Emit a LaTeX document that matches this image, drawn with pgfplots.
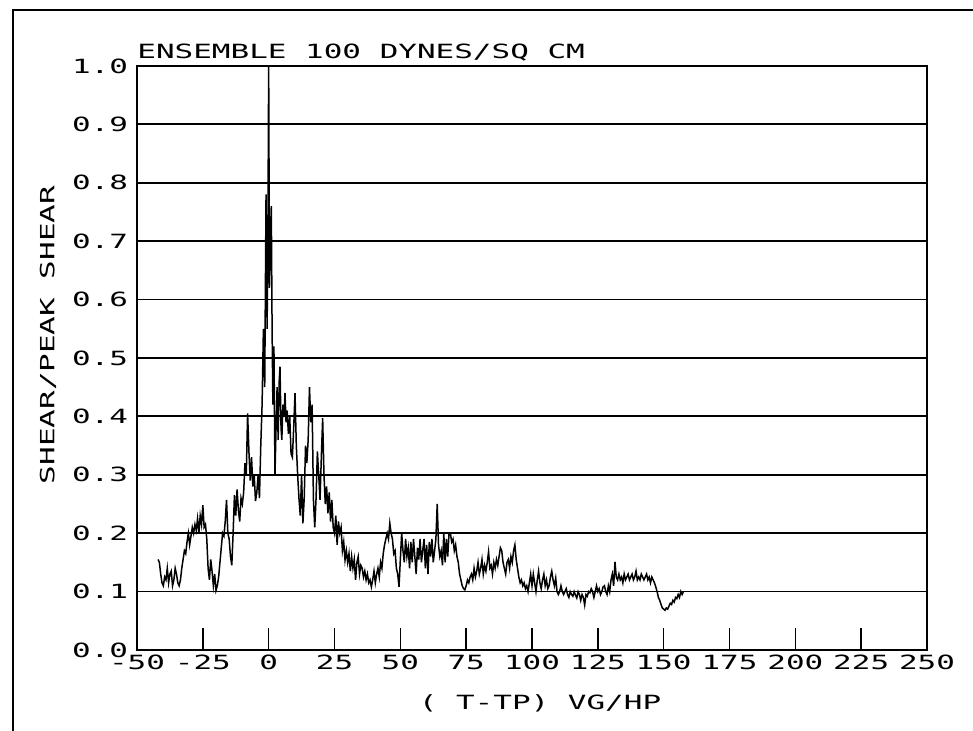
\documentclass[border=0pt]{standalone}
\usepackage{pgfplots}
\pgfplotsset{compat=1.18}
\usepackage{fontspec}
\setmainfont{DejaVu Sans Mono}[FakeStretch=1.58]
\begin{document}
\begin{tikzpicture}[x=0.5pt,y=0.5pt]
\useasboundingbox (0,0) rectangle (973,731);
\draw[line width=0.8pt] (13,0) -- (13,721) -- (973,721);
\begin{axis}[
  at={(68.5pt,40.5pt)}, anchor=south west,
  width=395pt, height=292pt, scale only axis,
  xmin=-50, xmax=250, ymin=0, ymax=1,
  axis line style={line width=0.9pt},
  xtick={-50,-25,0,25,50,75,100,125,150,175,200,225,250},
  xticklabels={-50,-25,0,25,50,75,100,125,150,175,200,225,250},
  ytick={0,0.1,0.2,0.3,0.4,0.5,0.6,0.7,0.8,0.9,1.0},
  yticklabels={0.0,0.1,0.2,0.3,0.4,0.5,0.6,0.7,0.8,0.9,1.0},
  xtick pos=bottom, ytick pos=left,
  tick align=inside,
  major tick length=11pt,
  x tick style={line width=0.7pt,black},
  y tick style={draw=none},
  ymajorgrids,
  grid style={line width=0.9pt,black},
  tick label style={font=\fontsize{9.8}{11}\selectfont},
  xticklabel style={yshift=1pt},
  yticklabel style={xshift=-1pt},
]
\addplot[black, line width=0.75pt] coordinates {
(-42,0.155)(-41.5,0.15)(-41,0.13)(-40.5,0.115)(-40,0.11)(-39.5,0.125)(-39,0.12)(-38.5,0.14)(-38,0.115)(-37.5,0.13)(-37,0.135)(-36.5,0.11)(-36,0.12)(-35.5,0.14)(-35,0.13)(-34.5,0.115)(-34,0.11)(-33.5,0.12)
(-33,0.14)(-32.5,0.155)(-32,0.17)(-31.5,0.165)(-31,0.185)(-30.5,0.2)(-30,0.18)(-29.5,0.195)(-29,0.21)(-28.5,0.2)(-28,0.215)(-27.5,0.205)(-27,0.225)(-26.5,0.2)(-26,0.23)(-25.5,0.215)(-25,0.248)(-24.5,0.21)(-24,0.215)(-23.5,0.19)(-23,0.14)(-22.5,0.12)(-22,0.155)(-21.5,0.135)(-21,0.11)(-20.5,0.13)(-20,0.102)(-19.5,0.11)(-19,0.125)
(-18.5,0.15)(-18,0.175)(-17.5,0.2)(-17,0.195)(-16.5,0.22)(-16,0.257)(-15.5,0.2)(-15,0.19)(-14.5,0.16)(-14,0.145)(-13.5,0.2)(-13,0.265)(-12.5,0.23)(-12,0.275)(-11.5,0.24)(-11,0.22)(-10.5,0.26)(-10,0.25)(-9.5,0.27)(-9,0.32)(-8.5,0.3)(-8,0.405)(-7.5,0.34)(-7,0.29)(-6.5,0.33)(-6,0.28)(-5.5,0.3)(-5,0.255)(-4.5,0.27)(-4,0.3)(-3.5,0.26)(-3,0.35)(-2.5,0.42)(-2,0.55)(-1.5,0.45)(-1,0.78)(-0.6,0.55)(-0.3,0.7)(0,1.0)(0.3,0.62)(0.6,0.7)(1,0.76)(1.3,0.55)(1.6,0.42)(2,0.52)(2.4,0.3)(2.8,0.38)(3.2,0.45)(3.6,0.36)(4,0.46)(4.3,0.485)(4.7,0.38)(5,0.36)(5.4,0.42)(5.8,0.4)(6.2,0.44)(6.6,0.39)(7,0.41)(7.5,0.37)(8,0.4)(8.5,0.336)(9,0.33)(9.5,0.38)(10,0.44)(10.5,0.35)(11,0.3)(11.5,0.26)(12,0.23)(12.5,0.3)(13,0.217)(13.5,0.26)(14,0.35)(14.5,0.32)(15,0.36)(15.5,0.45)(16,0.39)(16.5,0.42)(17,0.257)(17.5,0.21)(18,0.26)(18.5,0.34)(19,0.3)(19.5,0.257)(20,0.33)(20.5,0.397)(21,0.3)(21.5,0.25)(22,0.28)(22.5,0.234)(23,0.27)(23.5,0.22)(24,0.257)(24.5,0.21)(25,0.2)(25.5,0.23)(26,0.18)(26.5,0.22)(27,0.2)(27.5,0.21)(28,0.17)(28.5,0.185)(29,0.154)(29.5,0.17)(30,0.15)(30.5,0.165)(31,0.135)(31.5,0.16)(32,0.14)(32.5,0.155)(33,0.12)(33.5,0.15)(34,0.16)(34.5,0.13)(35,0.145)(35.5,0.14)(36,0.125)(36.5,0.135)(37,0.12)(37.5,0.13)(38,0.115)(38.5,0.12)(39,0.108)(39.5,0.12)(40,0.135)(40.5,0.115)(41,0.13)(41.5,0.14)(42,0.125)(42.5,0.15)(43,0.14)(43.5,0.165)(44,0.18)(44.5,0.19)(45,0.2)(45.5,0.19)(46,0.217)(46.5,0.2)(47,0.19)(47.5,0.165)(48,0.17)(48.5,0.14)(49,0.13)(49.5,0.108)(50,0.155)(50.5,0.2)(51,0.17)(51.5,0.15)(52,0.19)(52.5,0.16)(53,0.175)(53.5,0.14)(54,0.185)(54.5,0.15)(55,0.19)(55.5,0.16)(56,0.13)(56.5,0.175)(57,0.155)(57.5,0.19)(58,0.15)(58.5,0.17)(59,0.19)(59.5,0.14)(60,0.18)(60.5,0.13)(61,0.185)(61.5,0.16)(62,0.19)(62.5,0.15)(63,0.17)(63.5,0.19)(64,0.25)(64.5,0.18)(65,0.16)(65.5,0.17)(66,0.145)(66.5,0.2)(67,0.15)(67.5,0.19)(68,0.16)(68.5,0.2)(69,0.2)(69.5,0.185)(70,0.19)(70.5,0.17)(71,0.18)(71.5,0.16)(72,0.15)(72.5,0.13)(73,0.12)(73.5,0.11)(74,0.105)(74.5,0.103)(75,0.11)(75.5,0.12)(76,0.115)(76.5,0.125)(77,0.13)(77.5,0.12)(78,0.14)(78.5,0.125)(79,0.135)(79.5,0.15)(80,0.13)(80.5,0.14)(81,0.155)(81.5,0.13)(82,0.145)(82.5,0.135)(83,0.15)(83.5,0.168)(84,0.14)(84.5,0.145)(85,0.13)(85.5,0.15)(86,0.14)(86.5,0.155)(87,0.145)(87.5,0.16)(88,0.175)(88.5,0.17)(89,0.15)(89.5,0.14)(90,0.13)(90.5,0.15)(91,0.155)(91.5,0.14)(92,0.16)(92.5,0.15)(93,0.17)(93.5,0.18)(94,0.155)(94.5,0.14)(95,0.125)(95.5,0.115)(96,0.12)(96.5,0.11)(97,0.115)(97.5,0.105)(98,0.11)(98.5,0.1)(99,0.115)(99.5,0.13)(100,0.11)(100.5,0.13)(101,0.115)(101.5,0.1)(102,0.12)(102.5,0.135)(103,0.115)(103.5,0.105)(104,0.12)(104.5,0.13)(105,0.11)(105.5,0.12)(106,0.105)(106.5,0.11)(107,0.125)(107.5,0.135)(108,0.12)(108.5,0.11)(109,0.123)(109.5,0.1)(110,0.095)(110.5,0.1)(111,0.11)(111.5,0.1)(112,0.095)(112.5,0.1)(113,0.105)(113.5,0.095)(114,0.09)(114.5,0.1)(115,0.095)(115.5,0.092)(116,0.1)(116.5,0.094)(117,0.089)(117.5,0.1)(118,0.095)(118.5,0.085)(119,0.095)(119.5,0.09)(120,0.077)(120.5,0.095)(121,0.092)(121.5,0.1)(122,0.098)(122.5,0.105)(123,0.1)(123.5,0.09)(124,0.1)(124.5,0.11)(125,0.1)(125.5,0.105)(126,0.095)(126.5,0.1)(127,0.108)(127.5,0.11)(128,0.1)(128.5,0.095)(129,0.11)(129.5,0.1)(130,0.12)(130.5,0.13)(131,0.11)(131.5,0.151)(132,0.125)(132.5,0.12)(133,0.13)(133.5,0.12)(134,0.125)(134.5,0.115)(135,0.13)(135.5,0.12)(136,0.125)(136.5,0.13)(137,0.12)(137.5,0.125)(138,0.13)(138.5,0.12)(139,0.125)(139.5,0.135)(140,0.12)(140.5,0.125)(141,0.12)(141.5,0.13)(142,0.125)(142.5,0.12)(143,0.125)(143.5,0.13)(144,0.12)(144.5,0.125)(145,0.115)(145.5,0.125)(146,0.12)(146.5,0.115)(147,0.108)(147.5,0.1)(148,0.09)(148.5,0.085)(149,0.078)(149.5,0.072)(150,0.07)(150.5,0.068)(151,0.072)(151.5,0.07)(152,0.075)(152.5,0.08)(153,0.078)(153.5,0.085)(154,0.082)(154.5,0.09)(155,0.088)(155.5,0.095)(156,0.09)(156.5,0.1)(157,0.095)(157.5,0.1)
};
\end{axis}
\node[anchor=base west, inner sep=0pt, font=\fontsize{9.8}{11}\selectfont] at (137,672) {ENSEMBLE 100 DYNES/SQ CM};
\node[rotate=90, inner sep=0pt, font=\fontsize{9.8}{11}\selectfont] at (48,396) {SHEAR/PEAK SHEAR};
\node[inner sep=0pt, font=\fontsize{9.8}{11}\selectfont] at (540,28) {( T-TP) VG/HP};
\end{tikzpicture}
\end{document}
